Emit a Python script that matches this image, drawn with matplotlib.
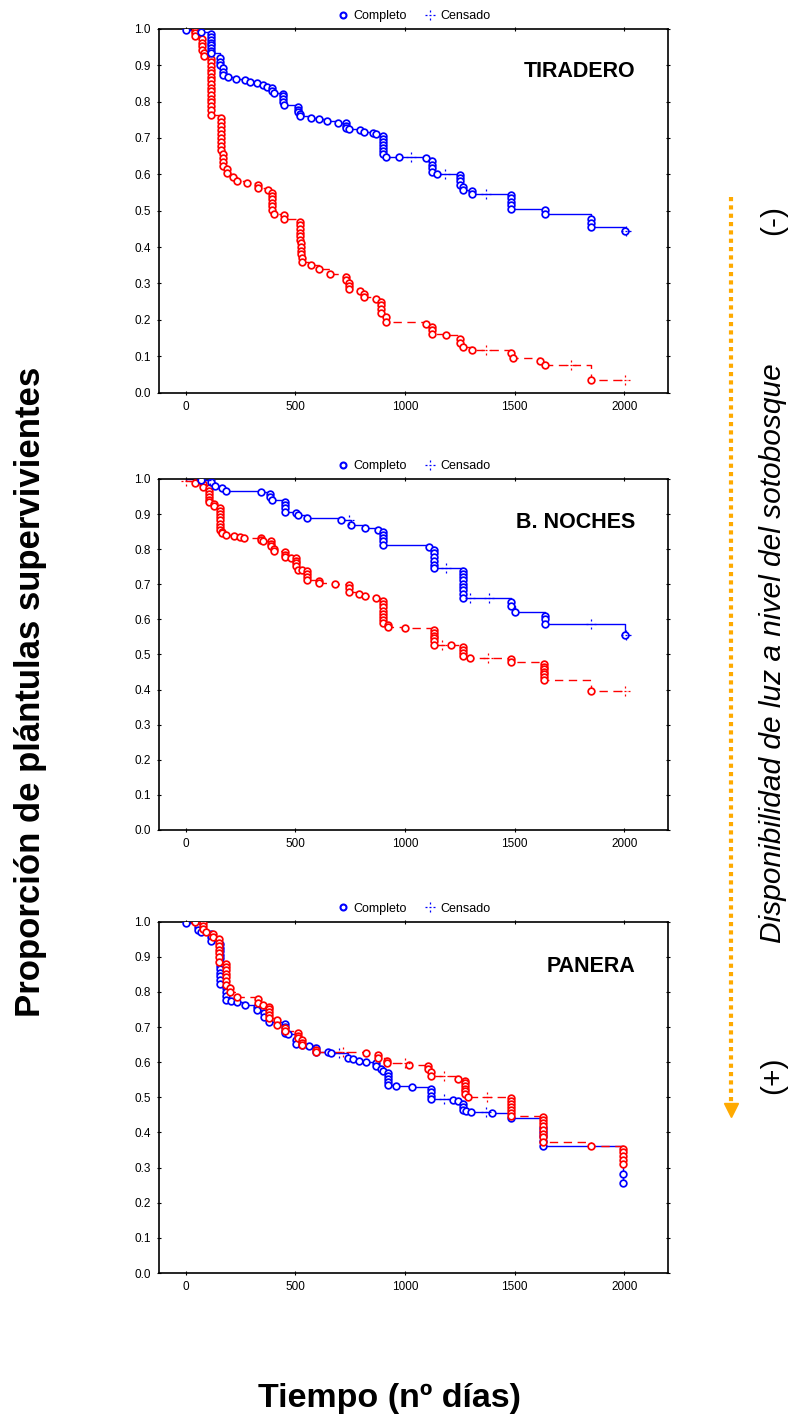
import numpy as np
import matplotlib
matplotlib.use("Agg")
import matplotlib.pyplot as plt
from matplotlib.lines import Line2D
from matplotlib.path import Path

plt.rcParams['font.family'] = ['Liberation Sans', 'DejaVu Sans']

# ---- data (time in days, survival proportion) ----
# TIRADERO
tir_b_t = [0, 71, 117, 117, 117, 117, 117, 117, 117, 117, 158, 158, 158, 168, 168, 168,
           193, 231, 269, 292, 325, 353, 371, 395, 395, 401, 444, 444, 444, 444, 446,
           512, 512, 512, 522, 522, 570, 606, 644, 695, 733, 733, 733, 745, 793, 813,
           854, 869, 900, 900, 900, 900, 900, 900, 900, 915, 973, 1094, 1125, 1125,
           1125, 1125, 1146, 1250, 1250, 1250, 1250, 1265, 1265, 1307, 1307, 1485,
           1485, 1485, 1485, 1485, 1637, 1637, 1850, 1850, 1850, 2002]
tir_b_s = [0.998, 0.992, 0.985, 0.978, 0.970, 0.962, 0.955, 0.948, 0.940, 0.933, 0.919,
           0.910, 0.900, 0.892, 0.882, 0.873, 0.867, 0.862, 0.860, 0.855, 0.850, 0.846,
           0.840, 0.837, 0.830, 0.823, 0.822, 0.814, 0.806, 0.798, 0.791, 0.785, 0.778,
           0.771, 0.765, 0.760, 0.755, 0.752, 0.748, 0.742, 0.740, 0.733, 0.727, 0.724,
           0.721, 0.716, 0.714, 0.711, 0.705, 0.697, 0.689, 0.681, 0.672, 0.663, 0.655,
           0.649, 0.648, 0.644, 0.636, 0.627, 0.617, 0.607, 0.601, 0.598, 0.590, 0.581,
           0.572, 0.565, 0.557, 0.553, 0.546, 0.543, 0.534, 0.525, 0.516, 0.505, 0.502,
           0.490, 0.478, 0.466, 0.454, 0.444]
tir_b_ct = [1029, 1181, 1368, 2010]
tir_b_cs = [0.648, 0.601, 0.546, 0.444]

tir_r_t = [41, 41, 41, 75, 75, 75, 75, 85, 85] + [117] * 16 + [160] * 9 + [170] * 4 + \
          [188, 188, 216, 234, 280, 330, 330, 375] + [395] * 6 + [401, 447, 447] + \
          [520] * 6 + [527] * 4 + [532, 532, 570, 606, 657, 730, 730, 745, 745, 745,
          793, 812, 812, 869, 892, 892, 892, 892, 912, 912, 1094, 1125, 1125, 1125,
          1189, 1250, 1250, 1265, 1307, 1482, 1493, 1614, 1637, 1850]
tir_r_s = [0.995, 0.988, 0.980, 0.972, 0.962, 0.952, 0.943, 0.934, 0.925,
           0.918, 0.908, 0.898, 0.888, 0.878, 0.868, 0.858, 0.848, 0.838, 0.828, 0.818,
           0.808, 0.798, 0.788, 0.776, 0.764,
           0.756, 0.745, 0.734, 0.722, 0.711, 0.700, 0.689, 0.678, 0.668,
           0.657, 0.645, 0.633, 0.622,
           0.615, 0.603, 0.594, 0.583, 0.577, 0.570, 0.563, 0.556,
           0.548, 0.540, 0.531, 0.522, 0.512, 0.502,
           0.491, 0.488, 0.478,
           0.470, 0.460, 0.450, 0.440, 0.430, 0.420,
           0.410, 0.400, 0.390, 0.380,
           0.370, 0.360, 0.350, 0.339, 0.326, 0.317, 0.309, 0.301, 0.293, 0.286,
           0.279, 0.272, 0.264, 0.256, 0.250, 0.240, 0.230, 0.220, 0.208, 0.194,
           0.190, 0.180, 0.171, 0.162, 0.158, 0.148, 0.137, 0.126, 0.117, 0.108,
           0.094, 0.086, 0.077, 0.036]
tir_r_ct = [1371, 1759, 2002]
tir_r_cs = [0.117, 0.077, 0.036]

# B. NOCHES
noc_b_t = [70, 117, 132, 167, 185, 345, 386, 386, 395, 451, 451, 451, 451, 505, 512,
           555, 710, 752, 819, 877, 900, 900, 900, 900, 900, 1110] + [1132] * 6 + \
          [1265] * 9 + [1485, 1485, 1500, 1637, 1637, 1637, 2002]
noc_b_s = [0.997, 0.990, 0.981, 0.973, 0.967, 0.962, 0.957, 0.948, 0.940, 0.935, 0.926,
           0.917, 0.907, 0.904, 0.898, 0.889, 0.884, 0.870, 0.860, 0.856, 0.850, 0.840,
           0.831, 0.822, 0.813, 0.807,
           0.798, 0.788, 0.778, 0.767, 0.756, 0.745,
           0.738, 0.729, 0.720, 0.711, 0.702, 0.693, 0.684, 0.673, 0.662,
           0.650, 0.638, 0.620, 0.610, 0.600, 0.588, 0.556]
noc_b_ct = [109, 745, 1186, 1296, 1383, 1850, 2010]
noc_b_cs = [0.997, 0.884, 0.745, 0.662, 0.662, 0.588, 0.556]

noc_r_t = [44, 79, 79] + [106] * 6 + [128, 128] + [155] * 8 + \
          [167, 167, 185, 220, 246, 266, 345, 345, 353, 391, 391, 391, 403, 403,
           453, 453, 453, 482, 505, 505, 505, 505, 512, 532, 555, 555, 555, 555,
           608, 608, 679, 745, 745, 745, 789, 819, 869] + [900] * 8 + \
          [923, 923, 1002] + [1132] * 6 + [1211, 1265, 1265, 1265, 1265, 1295,
           1482, 1482] + [1634] * 7 + [1850]
noc_r_s = [0.989, 0.985, 0.976,
           0.975, 0.966, 0.957, 0.948, 0.940, 0.934,
           0.930, 0.923,
           0.918, 0.909, 0.900, 0.891, 0.882, 0.873, 0.864, 0.855,
           0.850, 0.845, 0.840, 0.838, 0.836, 0.833, 0.831, 0.826, 0.823, 0.822, 0.815,
           0.809, 0.801, 0.795, 0.791, 0.784, 0.777, 0.776, 0.775, 0.767, 0.760, 0.753,
           0.741, 0.740, 0.737, 0.729, 0.721, 0.712, 0.708, 0.703, 0.702, 0.698, 0.690,
           0.679, 0.672, 0.667, 0.660,
           0.652, 0.643, 0.634, 0.625, 0.616, 0.607, 0.598, 0.589,
           0.584, 0.579, 0.575,
           0.570, 0.562, 0.554, 0.546, 0.537, 0.528,
           0.527, 0.520, 0.512, 0.504, 0.495, 0.490, 0.486, 0.478,
           0.472, 0.465, 0.458, 0.451, 0.444, 0.436, 0.426, 0.397]
noc_r_ct = [0, 1170, 1379, 2002]
noc_r_cs = [0.995, 0.527, 0.490, 0.397]

# PANERA
pan_b_t = [0, 56, 56, 71, 117, 117, 117] + [155] * 12 + [182] * 4 + \
          [208, 234, 272, 325, 325, 357, 357, 380, 451, 451, 451, 451, 467, 505, 505,
           532, 562, 593, 593, 649, 664, 740, 763, 790, 821, 869, 869, 890, 900] + \
          [923] * 5 + [958, 1032, 1120, 1120, 1120, 1120, 1219, 1242, 1265, 1265, 1265,
           1280, 1300, 1397, 1482] + [1629] * 5 + [1994, 1994]
pan_b_s = [0.995, 0.986, 0.976, 0.970, 0.965, 0.955, 0.944,
           0.935, 0.925, 0.915, 0.905, 0.895, 0.885, 0.875, 0.865, 0.855, 0.845, 0.833,
           0.821, 0.812, 0.800, 0.788, 0.778,
           0.775, 0.772, 0.763, 0.757, 0.748, 0.739, 0.729, 0.715, 0.708, 0.699, 0.690,
           0.682, 0.680, 0.663, 0.653, 0.649, 0.646, 0.641, 0.630, 0.629, 0.625, 0.611,
           0.608, 0.602, 0.601, 0.597, 0.589, 0.580, 0.574,
           0.570, 0.561, 0.552, 0.543, 0.535,
           0.532, 0.528, 0.524, 0.515, 0.505, 0.494, 0.493, 0.490, 0.482, 0.472, 0.464,
           0.462, 0.457, 0.456, 0.440,
           0.414, 0.402, 0.390, 0.376, 0.361, 0.283, 0.256]
pan_b_ct = [700, 1176, 1368]
pan_b_cs = [0.625, 0.494, 0.457]

pan_r_t = [41, 79, 79, 79, 94, 125, 125] + [150] * 7 + [185] * 7 + \
          [201, 201, 234, 330, 330, 353] + [380] * 5 + [416, 416, 451, 451, 512, 512,
           512, 532, 532, 532, 596, 596, 821, 877, 877, 918, 918, 1017, 1105, 1105,
           1120, 1120, 1242] + [1272] * 6 + [1288] + [1485] * 7 + [1629] * 8 + \
          [1850] + [1994] * 5
pan_r_s = [0.998, 0.995, 0.987, 0.979, 0.971, 0.965, 0.957,
           0.950, 0.940, 0.930, 0.920, 0.910, 0.898, 0.886,
           0.879, 0.870, 0.861, 0.852, 0.842, 0.831, 0.820,
           0.812, 0.800, 0.786, 0.779, 0.768, 0.763,
           0.757, 0.750, 0.742, 0.734, 0.725,
           0.719, 0.705, 0.698, 0.688, 0.683, 0.675, 0.668, 0.662, 0.655, 0.648, 0.636,
           0.629, 0.625, 0.619, 0.611, 0.603, 0.597, 0.592, 0.588, 0.580, 0.572, 0.560,
           0.551,
           0.547, 0.540, 0.532, 0.524, 0.518, 0.510,
           0.500,
           0.497, 0.489, 0.481, 0.473, 0.465, 0.456, 0.446,
           0.443, 0.435, 0.426, 0.417, 0.407, 0.397, 0.386, 0.373,
           0.361,
           0.353, 0.343, 0.332, 0.322, 0.311]
pan_r_ct = [717, 1000, 1176, 1375]
pan_r_cs = [0.629, 0.597, 0.560, 0.500]

sites = ["TIRADERO", "B. NOCHES", "PANERA"]
blue_series = [(tir_b_t, tir_b_s, tir_b_ct, tir_b_cs),
               (noc_b_t, noc_b_s, noc_b_ct, noc_b_cs),
               (pan_b_t, pan_b_s, pan_b_ct, pan_b_cs)]
red_series = [(tir_r_t, tir_r_s, tir_r_ct, tir_r_cs),
              (noc_r_t, noc_r_s, noc_r_ct, noc_r_cs),
              (pan_r_t, pan_r_s, pan_r_ct, pan_r_cs)]

BLUE = '#0000FF'
RED = '#FF0000'
ORANGE = '#FFAA00'

# dotted cross used by Statistica for censored cases
_segs = [(-1, 0), (-0.55, 0), (0.55, 0), (1, 0),
         (0, -1), (0, -0.55), (0, 0.55), (0, 1),
         (-0.12, 0), (0.12, 0)]
_codes = [Path.MOVETO, Path.LINETO] * 5
CENS = Path(_segs, _codes)

fig = plt.figure(figsize=(7.91, 14.2), dpi=100)

# axes boxes [left, bottom, width, height] in figure fraction
boxes = [[0.201, 0.7235, 0.6435, 0.2562],
         [0.201, 0.4155, 0.6435, 0.2472],
         [0.201, 0.1035, 0.6435, 0.2475]]
label_y = [0.882, 0.875, 0.872]


def km_line(ax, ev_t, ev_s, c_t, c_s, color, ls):
    # merge events and censors into one sorted step path starting at (0, 1)
    pts = sorted(list(zip(ev_t, ev_s)) + list(zip(c_t, c_s)),
                 key=lambda p: (p[0], -p[1]))
    xs = [0] + [p[0] for p in pts]
    ys = [1.0] + [p[1] for p in pts]
    xs.append(xs[-1] + 12)
    ys.append(ys[-1])
    ax.step(xs, ys, where='post', color=color, lw=1.0, ls=ls, zorder=2)
    ax.plot(ev_t, ev_s, 'o', ms=4.8, mfc='white', mec=color, mew=1.25, zorder=3)
    ax.plot(c_t, c_s, ls='none', marker=CENS, ms=7, mec=color, mew=0.9, zorder=3)


for i, site in enumerate(sites):
    ax = fig.add_axes(boxes[i])
    bt, bs, bct, bcs = blue_series[i]
    rt, rs, rct, rcs = red_series[i]
    if i == 2:
        km_line(ax, bt, bs, bct, bcs, BLUE, '-')
        km_line(ax, rt, rs, rct, rcs, RED, (0, (6, 4)))
    else:
        km_line(ax, rt, rs, rct, rcs, RED, (0, (6, 4)))
        km_line(ax, bt, bs, bct, bcs, BLUE, '-')

    ax.set_xlim(-122, 2200)
    ax.set_ylim(0, 1.0)
    ax.set_xticks([0, 500, 1000, 1500, 2000])
    ax.set_yticks(np.arange(0, 1.01, 0.1))
    ax.set_yticklabels([f"{v:.1f}" for v in np.arange(0, 1.01, 0.1)])
    ax.tick_params(direction='inout', length=3.5, width=0.8, labelsize=8.5,
                   top=True, right=True, pad=4)
    for sp in ax.spines.values():
        sp.set_linewidth(1.2)

    ax.text(0.935, label_y[i], site, transform=ax.transAxes, ha='right', va='center',
            fontsize=15.5, fontweight='bold')

    handles = [Line2D([], [], marker='o', ls='none', ms=4.3, mfc='white', mec=BLUE, mew=1.5),
               Line2D([], [], marker=CENS, ls='none', ms=7, mec=BLUE, mew=0.9)]
    ax.legend(handles, ["Completo", "Censado"], loc='lower center',
              bbox_to_anchor=(0.5, 1.0), ncol=2, frameon=False, fontsize=9,
              handletextpad=0.3, columnspacing=1.4, handlelength=1.0,
              borderaxespad=0.15)

fig.text(0.038, 0.513, "Proporción de plántulas supervivientes", rotation=90,
         ha='center', va='center', fontsize=25, fontweight='bold')
fig.text(0.493, 0.015, "Tiempo (nº días)", ha='center', va='center',
         fontsize=24.5, fontweight='bold')
fig.text(0.977, 0.54, "Disponibilidad de luz a nivel del sotobosque", rotation=90,
         ha='center', va='center', fontsize=21.5, style='italic')
fig.text(0.977, 0.845, "(-)", rotation=90, ha='center', va='center', fontsize=21.5)
fig.text(0.977, 0.243, "(+)", rotation=90, ha='center', va='center', fontsize=21.5)

# orange dotted arrow on the right
fig.add_artist(Line2D([0.924, 0.924], [0.861, 0.222], transform=fig.transFigure,
                      color=ORANGE, lw=3, ls=(0, (1, 1))))
fig.add_artist(Line2D([0.924], [0.2185], transform=fig.transFigure, marker='v',
                      ms=10, color=ORANGE, mec=ORANGE))

fig.savefig("out.png", dpi=100)
